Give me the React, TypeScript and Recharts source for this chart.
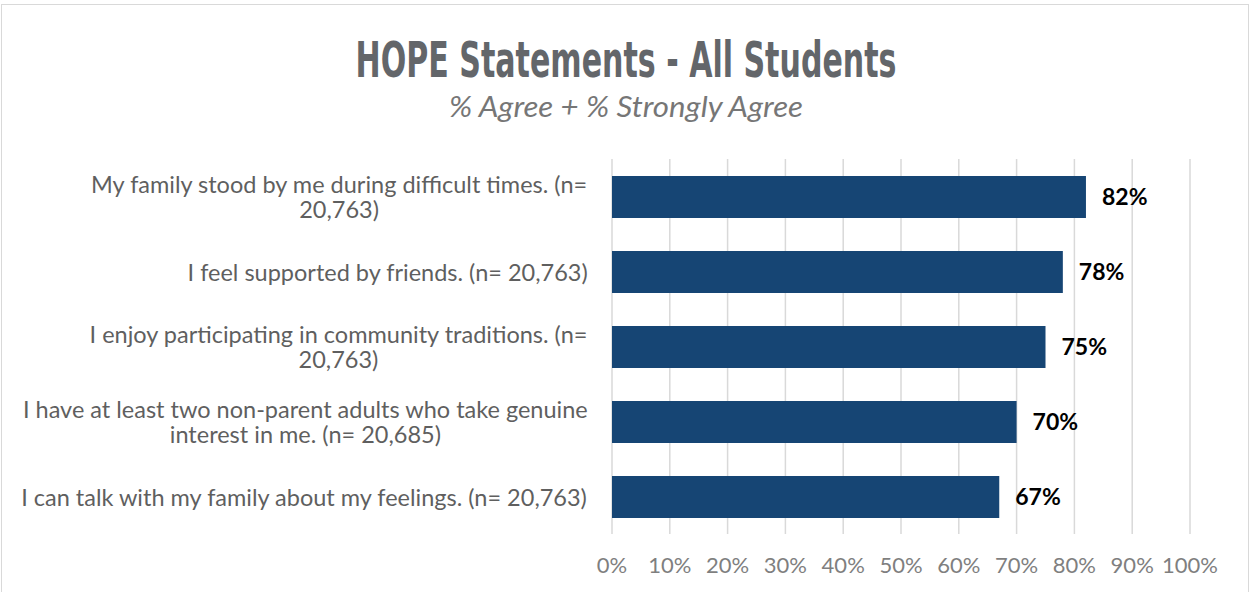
import { Bar, BarChart, CartesianGrid, LabelList, XAxis, YAxis } from "recharts";

const CATEGORIES = [
	"My family stood by me during difficult times. (n= 20,763)",
	"I feel supported by friends. (n= 20,763)",
	"I enjoy participating in community traditions. (n= 20,763)",
	"I have at least two non-parent adults who take genuine interest in me. (n= 20,685)",
	"I can talk with my family about my feelings. (n= 20,763)",
];
const AGREE = [0.82, 0.78, 0.75, 0.7, 0.67];
const X_TICKS = [0, 0.1, 0.2, 0.3, 0.4, 0.5, 0.6, 0.7, 0.8, 0.9, 1];

const TITLE = "HOPE Statements - All Students";
const SUBTITLE = "% Agree + % Strongly Agree";

const data = CATEGORIES.map((name, i) => ({ name, value: AGREE[i] }));

const pct = (v: number) => `${Math.round(v * 100)}%`;

const LABEL_FONT = 23.5;
const WRAP_WIDTH = 576;

let ctx: CanvasRenderingContext2D | null = null;
function measure(s: string) {
	if (!ctx) {
		ctx = document.createElement("canvas").getContext("2d");
	}
	if (!ctx) return s.length * LABEL_FONT * 0.5;
	ctx.font = `${LABEL_FONT}px Lato`;
	return ctx.measureText(s).width;
}

function wrap(text: string) {
	const words = text.split(" ");
	const lines: string[] = [];
	let cur = "";
	for (const w of words) {
		const next = cur ? cur + " " + w : w;
		if (cur && measure(next) > WRAP_WIDTH) {
			lines.push(cur);
			cur = w;
		} else {
			cur = next;
		}
	}
	if (cur) lines.push(cur);
	return lines;
}

function CategoryTick(props: any) {
	const { x, y, payload } = props;
	const lines = wrap(payload.value);
	const widest = Math.max(...lines.map(measure));
	const right = x - 22;
	const cx = right - widest / 2;
	const lh = 25.5;
	const y0 = y - ((lines.length - 1) * lh) / 2;
	return (
		<text
			fill="#5f5f5f"
			fontSize={LABEL_FONT}
			fontFamily="Lato"
			textAnchor="middle"
			dominantBaseline="central"
		>
			{lines.map((l, i) => (
				<tspan key={i} x={cx} y={y0 + i * lh}>
					{l}
				</tspan>
			))}
		</text>
	);
}

export default function App() {
	return (
		<div
			style={{
				position: "absolute",
				left: 0,
				top: 0,
				width: 1250,
				height: 592,
				background: "#fff",
			}}
		>
			<div
				style={{
					position: "absolute",
					left: 1,
					top: 4,
					width: 1246,
					height: 600,
					border: "1px solid #d9d9d9",
				}}
			/>
			<svg
				width={1250}
				height={140}
				style={{ position: "absolute", left: 0, top: 0 }}
			>
				<text
					x={626}
					y={77}
					textAnchor="middle"
					fontFamily="'Liberation Sans Narrow', 'DejaVu Sans Condensed', Roboto"
					fontWeight="bold"
					fontSize={50}
					fill="#63666a"
					textLength={541}
					lengthAdjust="spacingAndGlyphs"
				>
					{TITLE}
				</text>
				<text
					x={626}
					y={117}
					textAnchor="middle"
					fontFamily="Lato"
					fontStyle="italic"
					fontSize={28}
					fill="#767676"
					textLength={354}
					lengthAdjust="spacingAndGlyphs"
				>
					{SUBTITLE}
				</text>
			</svg>
			<div style={{ position: "absolute", left: 0, top: 0 }}>
				<BarChart
					width={1250}
					height={592}
					data={data}
					layout="vertical"
					margin={{ top: 159, right: 60, bottom: 18, left: 0 }}
					barCategoryGap={33}
				>
					<CartesianGrid
						horizontal={false}
						stroke="#d9d9d9"
						strokeWidth={1.5}
					/>
					<XAxis
						type="number"
						domain={[0, 1]}
						ticks={X_TICKS}
						tickFormatter={pct}
						axisLine={false}
						tickLine={false}
						tickSize={0}
						tickMargin={23}
						height={40}
						interval={0}
						tick={{ fill: "#7f7f7f", fontSize: 22, fontFamily: "Lato" }}
					/>
					<YAxis
						type="category"
						dataKey="name"
						width={612}
						axisLine={false}
						tickLine={false}
						tickSize={0}
						interval={0}
						tick={<CategoryTick />}
					/>
					<Bar
						dataKey="value"
						fill="#164574"
						barSize={42}
						isAnimationActive={false}
					>
						<LabelList
							dataKey="value"
							position="right"
							offset={16}
							formatter={(v: any) => pct(Number(v))}
							fill="#000"
							fontSize={23}
							fontWeight="bold"
							fontFamily="Lato"
						/>
					</Bar>
				</BarChart>
			</div>
		</div>
	);
}
